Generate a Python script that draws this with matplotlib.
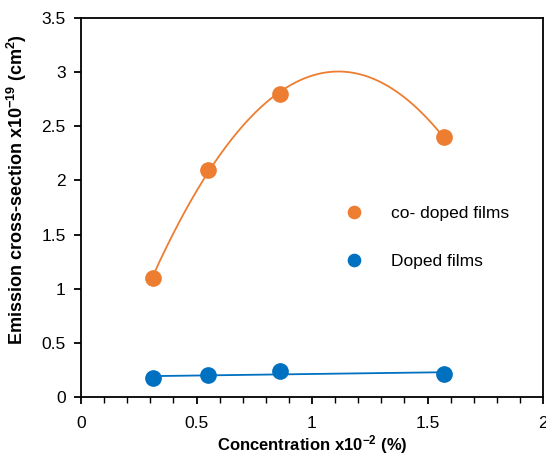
import numpy as np
import matplotlib
matplotlib.use("Agg")
import matplotlib.pyplot as plt
from matplotlib.ticker import MultipleLocator

plt.rcParams['font.family'] = ['Liberation Sans', 'DejaVu Sans']
plt.rcParams['mathtext.fontset'] = 'custom'
plt.rcParams['mathtext.rm'] = 'Liberation Sans'
plt.rcParams['mathtext.bf'] = 'Liberation Sans:bold'

# data
conc = [0.31, 0.55, 0.86, 1.57]
codoped = [1.10, 2.10, 2.80, 2.40]
doped = [0.175, 0.20, 0.24, 0.215]

orange = '#ED7D31'
blue = '#0070C0'

fig = plt.figure(figsize=(5.46, 4.53), dpi=100)
ax = fig.add_axes([81 / 546, 56 / 453, 462 / 546, 379 / 453])

# trendlines (polynomial order 2 for co-doped, linear for doped)
xs = np.linspace(min(conc), max(conc), 200)
p2 = np.polyfit(conc, codoped, 2)
p1 = np.polyfit(conc, doped, 1)
ax.plot(xs, np.polyval(p2, xs), color=orange, lw=1.3)
ax.plot(xs, np.polyval(p1, xs), color=blue, lw=1.3)

ax.plot(conc, codoped, 'o', color=orange, ms=11, label='co- doped films')
ax.plot(conc, doped, 'o', color=blue, ms=11, label='Doped films')

ax.set_xlim(0, 2)
ax.set_ylim(0, 3.5)
ax.xaxis.set_minor_locator(MultipleLocator(0.1))
ax.set_xticks([0, 0.5, 1, 1.5, 2])
ax.set_xticklabels(['0', '0.5', '1', '1.5', '2'])
ax.set_yticks([0, 0.5, 1, 1.5, 2, 2.5, 3, 3.5])
ax.set_yticklabels(['0', '0.5', '1', '1.5', '2', '2.5', '3', '3.5'])
ax.tick_params(which='major', direction='out', length=5, width=1.3, labelsize=12.5)
ax.tick_params(axis='x', which='major', pad=9)
ax.tick_params(axis='y', which='major', pad=6)
ax.tick_params(which='minor', direction='out', length=4, width=1.0)
for s in ax.spines.values():
    s.set_linewidth(1.3)

ax.set_xlabel(r'Concentration x10$\mathbf{^{-2}}$ (%)', fontsize=12, fontweight='bold')
ax.xaxis.set_label_coords(0.5, -0.095)
ax.set_ylabel(r'Emission cross-section x10$\mathbf{^{-19}}$ (cm$\mathbf{^{2}}$)',
              fontsize=13, fontweight='bold')
ax.yaxis.set_label_coords(-0.112, 0.546)

ax.legend(loc='center left', bbox_to_anchor=(0.52, 0.42), frameon=False, fontsize=12.5,
          handletextpad=1.1, labelspacing=1.9, markerscale=0.8)

fig.savefig('out.png', dpi=100)
